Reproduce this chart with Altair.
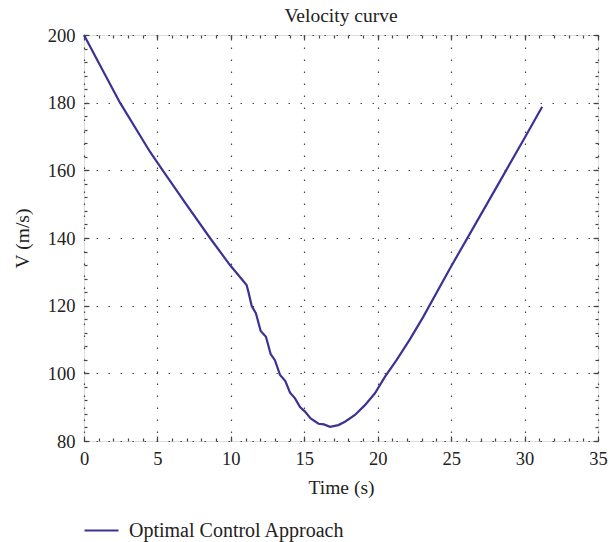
import altair as alt
import pandas as pd

# Data
time_s = [0, 1, 2.45, 4.49, 5.36, 7, 8.58, 9.94, 11.07, 11.2, 11.42, 11.71, 12.03,
          12.39, 12.71, 13.0, 13.35, 13.71, 14.03, 14.37, 14.71, 15.05, 15.43, 15.97,
          16.34, 16.75, 17.32, 17.77, 18.45, 19.13, 19.81, 20.5, 21.28, 22.2, 23.1,
          24.92, 26.28, 28.55, 30.03, 31.2]
velocity = [200, 191.8, 180, 165.5, 160, 149.7, 140, 132, 126.1, 124, 119.9, 117.7,
            112.5, 110.8, 105.7, 103.9, 99.5, 97.7, 94.3, 92.6, 90.0, 88.7, 86.7, 85.1,
            84.9, 84.2, 84.7, 85.7, 87.7, 90.6, 94.1, 99.0, 103.9, 110.1, 116.7, 131.0,
            141.3, 158.5, 169.8, 178.8]
series_name = ["Optimal Control Approach"]

x_major = [0, 5, 10, 15, 20, 25, 30, 35]
x_minor = list(range(0, 36))
y_major = [80, 100, 120, 140, 160, 180, 200]
y_minor = list(range(80, 201, 4))

df = pd.DataFrame({"t": time_s, "v": velocity, "series": series_name * len(time_s)})

FONT = "Liberation Serif"
TICK_COLOR = "#444444"
LINE_COLOR = "#3c3296"

xs = alt.Scale(domain=[0, 35], nice=False, zero=False)
ys = alt.Scale(domain=[80, 200], nice=False, zero=False)


def ax(orient, values, size, labels=False, grid=False, title=None, **kw):
    opts = dict(orient=orient, values=values, tickSize=size, offset=-size,
                domain=False, labels=labels, grid=grid, ticks=True,
                tickColor=TICK_COLOR, tickWidth=1.2)
    opts["title"] = title
    if grid:
        opts.update(gridColor="#333333", gridDash=[1.5, 10.5], gridWidth=1.2,
                    gridOpacity=0.9)
    if labels:
        opts.update(labelFont=FONT, labelFontSize=18.5, labelColor="#222222",
                    labelFlush=False, labelOverlap=False)
    if title is not None:
        opts.update(titleFont=FONT, titleFontSize=19.5, titleFontWeight="normal",
                    titleColor="#222222")
    opts.update(kw)
    return alt.Axis(**opts)


base = alt.Chart(df)

main = base.mark_line(strokeWidth=2.2).encode(
    x=alt.X("t:Q", scale=xs,
            axis=ax("bottom", x_major, 5, labels=True, grid=True, title="Time (s)",
                    labelPadding=8, titlePadding=11)),
    y=alt.Y("v:Q", scale=ys,
            axis=ax("left", y_major, 5, labels=True, grid=True, title="V (m/s)",
                    labelPadding=9, titlePadding=15)),
    color=alt.Color("series:N",
                    scale=alt.Scale(domain=series_name, range=[LINE_COLOR]),
                    legend=alt.Legend(title=None, orient="none", legendX=-1,
                                      legendY=477, symbolType="stroke",
                                      symbolSize=1156, symbolStrokeWidth=2.2,
                                      labelFont=FONT, labelFontSize=20,
                                      labelColor="#222222", labelOffset=9,
                                      labelLimit=500, padding=0)),
)

minor_bl = base.mark_line(opacity=0).encode(
    x=alt.X("t:Q", scale=xs, axis=ax("bottom", x_minor, 3)),
    y=alt.Y("v:Q", scale=ys, axis=ax("left", y_minor, 3)),
)

major_tr = base.mark_line(opacity=0).encode(
    x=alt.X("t:Q", scale=xs, axis=ax("top", x_major, 5)),
    y=alt.Y("v:Q", scale=ys, axis=ax("right", y_major, 5)),
)

minor_tr = base.mark_line(opacity=0).encode(
    x=alt.X("t:Q", scale=xs, axis=ax("top", x_minor, 3)),
    y=alt.Y("v:Q", scale=ys, axis=ax("right", y_minor, 3)),
)

chart = alt.layer(main, minor_bl, major_tr, minor_tr).resolve_axis(
    x="independent", y="independent"
).properties(
    width=514,
    height=406,
    title=alt.TitleParams("Velocity curve", font=FONT, fontSize=19.5,
                          fontWeight="normal", color="#222222", offset=0),
    autosize=alt.AutoSizeParams(type="none"),
    padding={"left": 84, "top": 35, "right": 12, "bottom": 101},
).configure_view(
    stroke="#555555", strokeWidth=1.8
).configure(background="white")

chart.save("out.html", embed_options={"renderer": "svg", "actions": False})
